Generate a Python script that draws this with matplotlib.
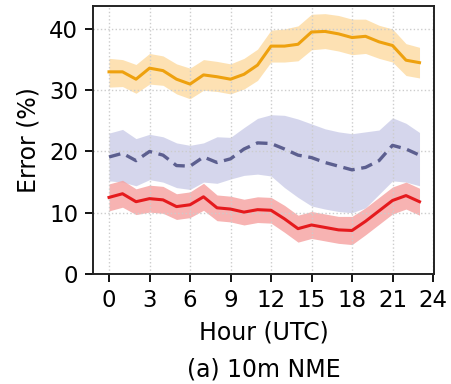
import numpy as np
import matplotlib
matplotlib.use('Agg')
from matplotlib import pyplot as plt

# hourly values
hours = np.arange(24)

orange_mean = [33.0, 33.0, 31.8, 33.6, 33.2, 31.8, 31.0, 32.5, 32.2, 31.8, 32.6, 34.1,
               37.2, 37.2, 37.5, 39.5, 39.6, 39.2, 38.6, 38.8, 37.9, 37.3, 34.9, 34.5]
orange_upper = [35.2, 35.0, 34.2, 36.0, 35.6, 34.3, 33.6, 35.0, 34.7, 34.3, 35.2, 36.7,
                39.8, 40.0, 40.5, 42.4, 42.5, 42.2, 41.6, 41.6, 40.6, 40.0, 37.6, 37.0]
orange_lower = [30.5, 30.6, 29.5, 31.0, 30.8, 29.4, 28.6, 30.0, 29.8, 29.4, 30.2, 31.6,
                34.6, 34.6, 34.8, 36.6, 36.8, 36.4, 35.8, 36.0, 35.2, 34.6, 32.4, 32.0]

blue_mean = [19.1, 19.7, 18.5, 20.0, 19.4, 17.7, 17.6, 19.1, 18.2, 18.8, 20.4, 21.4,
             21.3, 20.4, 19.4, 19.0, 18.2, 17.6, 17.0, 17.4, 18.5, 21.0, 20.4, 19.4]
blue_upper = [23.0, 23.6, 22.1, 22.8, 22.4, 21.4, 21.0, 21.4, 22.4, 22.3, 23.9, 25.4,
              26.0, 25.9, 25.3, 24.5, 23.7, 23.2, 22.9, 23.2, 23.5, 25.5, 24.6, 23.1]
blue_lower = [15.2, 15.0, 14.4, 15.4, 15.0, 14.1, 13.8, 15.0, 14.8, 15.5, 16.1, 16.3,
              16.0, 14.1, 12.5, 11.1, 10.6, 10.2, 10.0, 10.8, 13.0, 15.2, 15.0, 14.4]

red_mean = [12.5, 13.1, 11.8, 12.3, 12.1, 11.0, 11.3, 12.6, 10.8, 10.6, 10.1, 10.5,
            10.4, 9.0, 7.4, 8.0, 7.6, 7.2, 7.1, 8.6, 10.3, 12.0, 12.8, 11.8]
red_spread = [2.2, 2.2, 2.1, 2.2, 2.2, 2.1, 2.1, 2.2, 2.1, 2.1, 2.1, 2.1,
              2.1, 2.2, 2.2, 2.2, 2.2, 2.2, 2.3, 2.2, 2.2, 2.2, 2.2, 2.2]

xticks = [0, 3, 6, 9, 12, 15, 18, 21, 24]
yticks = [0, 10, 20, 30, 40]

plt.rcParams['font.family'] = 'DejaVu Sans'
fig = plt.figure(figsize=(4.51, 3.84), dpi=100)
ax = fig.add_axes([0.2073, 0.2865, 0.7561, 0.6979])

red_mean_a = np.array(red_mean)
red_spread_a = np.array(red_spread)

ax.fill_between(hours, blue_lower, blue_upper, color='#bfc1e3', alpha=0.65, lw=0)
ax.fill_between(hours, orange_lower, orange_upper, color='#fcd28a', alpha=0.65, lw=0)
ax.fill_between(hours, red_mean_a - red_spread_a, red_mean_a + red_spread_a,
                color='#f5a09f', alpha=0.8, lw=0)

ax.plot(hours, orange_mean, color='#eea10e', lw=2.2)
ax.plot(hours, blue_mean, color='#5c5f8f', lw=2.4, ls=(0, (3.5, 2)))
ax.plot(hours, red_mean, color='#e51a1d', lw=2.2)

ax.set_xlim(-1.15, 24.11)
ax.set_ylim(0, 43.75)
ax.set_xticks(xticks)
ax.set_yticks(yticks)
ax.tick_params(labelsize=16.5, length=6, width=1.3, pad=5)
ax.grid(True, ls=':', color='#cccccc', lw=1)
for sp in ax.spines.values():
    sp.set_linewidth(1.4)
    sp.set_color('#222222')

ax.set_xlabel('Hour (UTC)', fontsize=17, labelpad=6)
ax.set_ylabel('Error (%)', fontsize=17, labelpad=6)
fig.text(0.586, 0.039, '(a) 10m NME', fontsize=17, ha='center', va='center')

fig.savefig('out.png', dpi=100)
